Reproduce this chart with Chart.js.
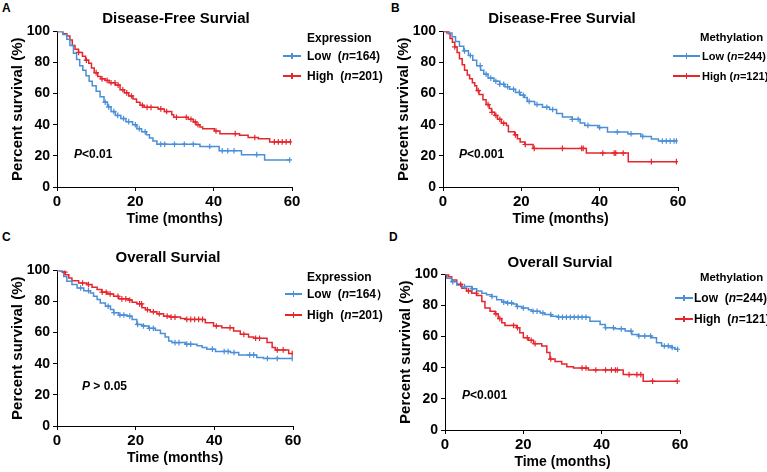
<!DOCTYPE html>
<html><head><meta charset="utf-8">
<script src="https://cdn.jsdelivr.net/npm/chart.js@4.4.0/dist/chart.umd.min.js"></script>
<style>
html,body{margin:0;padding:0;background:#fff;}
body{width:767px;height:472px;position:relative;overflow:hidden;font-family:"Liberation Sans",Arial,sans-serif;color:#000;}
.c{position:absolute;z-index:1;}
.t{position:absolute;white-space:nowrap;line-height:1;font-weight:bold;z-index:2;}
.ttl{font-size:15px;transform:translateX(-50%);}
.let{font-size:12px;}
.lg{font-size:12px;}
.lgm{font-size:11.4px;}
.lg2{font-size:11px;}
.pv{font-size:12px;}
.mk{position:absolute;z-index:2;height:0;}
.mk .h{position:absolute;left:0;right:0;top:-0.75px;height:1.5px;}
.mk .v{position:absolute;left:50%;width:1.2px;margin-left:-0.6px;top:-3px;height:6px;}
</style></head><body>

<div class="t let" style="left:2px;top:2px">A</div>
<div class="t let" style="left:391px;top:2px">B</div>
<div class="t let" style="left:2px;top:231px">C</div>
<div class="t let" style="left:389px;top:231px">D</div>

<div class="t ttl" style="left:176px;top:10px">Disease-Free Survial</div>
<div class="t ttl" style="left:562px;top:10px">Disease-Free Survial</div>
<div class="t ttl" style="left:168px;top:249px">Overall Survial</div>
<div class="t ttl" style="left:560px;top:254px">Overall Survial</div>

<div class="t lg" style="left:307px;top:32px">Expression</div>
<div class="t lg" style="left:307px;top:50px">Low&nbsp;&nbsp;(<i>n</i>=164)</div>
<div class="t lg" style="left:307px;top:70px">High&nbsp;&nbsp;(<i>n</i>=201)</div>
<div class="mk" style="left:283px;top:56px;width:18px"><div class="h" style="background:#4a8fd8"></div><div class="v" style="background:#4a8fd8"></div></div>
<div class="mk" style="left:283px;top:76px;width:18px"><div class="h" style="background:#e5262c"></div><div class="v" style="background:#e5262c"></div></div>

<div class="t lgm" style="left:700px;top:32px">Methylation</div>
<div class="t lg2" style="left:702px;top:51px">Low&nbsp;(<i>n</i>=244)</div>
<div class="t lg2" style="left:702px;top:71px">High&nbsp;(<i>n</i>=121)</div>
<div class="mk" style="left:673px;top:56px;width:27px"><div class="h" style="background:#4a8fd8"></div><div class="v" style="background:#4a8fd8"></div></div>
<div class="mk" style="left:673px;top:76px;width:27px"><div class="h" style="background:#e5262c"></div><div class="v" style="background:#e5262c"></div></div>

<div class="t lg" style="left:307px;top:271px">Expression</div>
<div class="t lg" style="left:307px;top:288px">Low&nbsp;&nbsp;(<i>n</i>=164）</div>
<div class="t lg" style="left:307px;top:309px">High&nbsp;&nbsp;(<i>n</i>=201)</div>
<div class="mk" style="left:285px;top:294px;width:17px"><div class="h" style="background:#4a8fd8"></div><div class="v" style="background:#4a8fd8"></div></div>
<div class="mk" style="left:285px;top:315px;width:17px"><div class="h" style="background:#e5262c"></div><div class="v" style="background:#e5262c"></div></div>

<div class="t lgm" style="left:700px;top:272px">Methylation</div>
<div class="t lg" style="left:694px;top:292px">Low&nbsp;&nbsp;(<i>n</i>=244)</div>
<div class="t lg" style="left:694px;top:313px">High&nbsp;&nbsp;(<i>n</i>=121)</div>
<div class="mk" style="left:675px;top:298px;width:18px"><div class="h" style="background:#4a8fd8"></div><div class="v" style="background:#4a8fd8"></div></div>
<div class="mk" style="left:675px;top:319px;width:18px"><div class="h" style="background:#e5262c"></div><div class="v" style="background:#e5262c"></div></div>

<div class="t pv" style="left:74px;top:148px"><i>P</i>&lt;0.01</div>
<div class="t pv" style="left:459px;top:148px"><i>P</i>&lt;0.001</div>
<div class="t pv" style="left:82px;top:380px"><i>P</i> &gt; 0.05</div>
<div class="t pv" style="left:462px;top:389px"><i>P</i>&lt;0.001</div>

<script>
const BLUE = '#4a8fd8', RED = '#e5262c';
const xTicks = [0, 20, 40, 60];
const yTicks = [0, 20, 40, 60, 80, 100];

// Panel A: Disease-free survival by expression
const aLowT = [0,1.5,2.5,3.3,4.2,5,5.8,6.6,7.4,8.2,9,10,11,12,12.9,13.8,14.9,16.3,17.6,19.3,20.4,21.6,22.8,23.6,24.5,25.5,36.5,41.4,47.1,53,59.4];
const aLowS = [100,98,95,91,86,82,78,75,71.5,68,65,61.5,58,54.5,51.5,48.5,46,44,42,40,37.5,35.5,33.5,31.5,29.5,27.5,26,23.3,20.8,17.4,17.4];
const aLowC = [12.3,13.2,14.5,15.5,17,18.3,20,21,22.5,26.5,27.5,30,32.5,34.8,39,42.2,43.6,45.2,51,59.4];
const aHighT = [0,1.5,2.5,3.3,3.9,4.6,5.5,6.5,7.3,8.1,8.8,9.5,10.4,11.2,12.3,13.3,14.9,16.1,17.2,18.3,19.4,20.3,21.2,22.2,25.8,27.4,29.3,29.8,33.5,34.8,35.5,36.5,37.2,40.2,41.6,46.6,48.8,51.4,54.3,59.6];
const aHighS = [100,98.5,97,94.5,91,88.5,86.5,84,81.5,79.5,76.5,73.5,71,69.5,68.5,67,65.5,62.5,60.5,58.5,56.5,54.5,52.5,51.2,50.2,48.5,46.5,44.8,43.5,41.8,40,38.5,37.5,36,34.3,33.2,31.8,31,29,29];
const aHighC = [5.5,7.5,10,11.5,12.8,13.8,14.8,15.6,16.8,17.8,19,21.8,23,24,26.5,28,30.5,33,34.2,35.3,36,40.6,45.5,50.5,55.5,56.5,57.5,58.5,59.6];

// Panel B: Disease-free survival by methylation
const bLowT = [0,1.3,2.3,3.2,4.2,5.3,6.5,7.6,8.6,9.6,10.4,11.5,13,14.5,15.8,17,18.5,19.7,20.8,21.5,23.4,25.4,27.2,29,30.5,33,35,36.2,39.6,42,47.2,50.5,53.2,55,59.6];
const bLowS = [100,99,96.5,93.5,90.5,87.5,84.5,81.5,78,75,72.5,70,68,66,64.5,62.8,60.8,59,57.5,55,53,51.3,49.8,47.3,45,43.5,41.2,39.6,38.2,35.3,34.2,32.5,30.8,29.6,29.6];
const bLowC = [5.5,7,9.5,11,12.2,13.5,14.5,15.5,16.5,18,19.5,20.5,22,24,26.5,28,33,34.5,37,40,44.5,48,51,56,57,58,59,59.6];
const bHighT = [0,1.5,1.8,2.4,3,3.6,4.2,4.9,5.5,6.2,6.8,7.5,8.1,8.6,9.2,10.2,11,11.8,12.4,13.2,13.9,14.9,16.2,16.7,18.3,19,19.7,20.9,23,36.6,47.3,59.6];
const bHighS = [100,98.5,95.5,93,90,86.5,82.5,78.5,75,72,69.5,67,65,62,59.5,56,53,50.5,48,46,43.5,41,39.6,35.5,33.5,31,29,27.3,24.8,21.8,16.3,16.3];
const bHighC = [1,3,9,11.5,12.5,13.5,14.5,15.5,18.5,21,23.3,30.5,35.4,35.8,40.8,43.7,44.1,46,53.2,59.6];

// Panel C: Overall survival by expression
const cLowT = [0,0.8,1.7,2.5,3.8,5.1,6.8,8.5,9.3,10.2,11,12.3,13.6,14.4,15.7,17.8,19.1,20.3,21.6,23.3,25,26.3,27.5,28.4,29.2,32.6,35.6,36.9,38.1,40.3,44.1,46.2,50.8,52.5,59.8];
const cLowS = [100,99.4,96,93,90.9,88.7,87,85.5,83.4,81.3,79.1,77,74.9,72.8,71.3,70.6,68.5,65.3,64.3,62.8,61.5,59.4,57.2,54.7,53.6,52.6,51.5,50.4,49.4,47.9,47.2,45.7,44,43.4,43.4];
const cLowC = [6,8,13,14.5,16,17,18.5,20.5,22,23.5,24.5,30,31,33,34,39.5,42.5,43.5,45,49,50,53.5,56,59.8];
const cHighT = [0,1.3,2.1,3,3.8,5.5,7.6,8.9,10.2,11.4,12.7,14.4,15.7,18.2,19.1,20.3,21.6,22.5,23.7,25.4,27.1,28.8,31.4,32.6,37.7,39.8,41.9,44.9,46.6,48.7,50,53.4,54.7,55.5,58.9,59.8];
const cHighS = [100,98.9,97.2,95.1,93.4,91.9,90.9,89.1,87.7,86,84.9,83.4,81.7,80.9,79.6,78.5,76,74.7,73.4,72.1,70.6,70,69.1,68.5,66.4,64.3,63.2,61.1,58.9,57.2,56.4,53.6,50.4,48.9,46.6,46.6];
const cHighC = [2,6.5,8,11.5,12.5,13.5,15.5,16.5,17.5,18.5,21,21.5,23,24.5,26,28,29,30,33,34,35,36,37,40.5,44,47.5,50.5,51.5,56,57.5,59.8];

// Panel D: Overall survival by methylation
const dLowT = [0,0.4,1.7,3,4.3,6.8,8.1,9.4,10.6,11.9,13.2,14.5,15.7,17.4,18.3,19.6,21.3,22.1,24.3,25.5,27.2,28.9,37,39.6,40.9,43.4,46,47.7,49.4,52.8,54,55.3,57.9,58.7,59.4];
const dLowS = [100,97.5,95.3,93.2,92.2,90.7,89.4,87.9,86.9,85.8,83.7,82.2,81.6,80.9,79.4,78.4,77.3,76.3,75.2,74.2,73.1,72.5,69.9,67.8,65.7,65,63.6,61.4,60.4,59.3,56.1,54,53,51.9,51.9];
const dLowC = [2,5,7,12,15,16,17,18.5,20,22.5,23.5,25,27,29,30,31,32,33,34,35,36,41,43,45,47.5,49.5,51,52.5,56,57,58,59.4];
const dHighT = [0,0.9,1.7,3,4.3,5.5,6.8,8.1,9.4,10.2,11.5,12.8,13.6,14.5,15.3,18.3,19.1,20,21.3,22.6,24.7,26,26.8,28.1,29.8,31.1,32.8,36.6,45.5,50.6,59.3];
const dHighS = [100,98.5,96.4,93.6,91.1,89.4,87.9,86.4,82.6,78.4,76.3,74.6,71.6,68.9,67.2,65.7,62.5,59.3,57.6,55.5,54,49.8,45.6,44.1,42.4,40.7,39.8,38.6,35.6,31.4,31.4];
const dHighC = [0.5,4,6,8,13,14,17.5,18.5,21,22,23,27,35,36,38.5,41,42.5,43.5,44,47,49,50,53,59.3];

function stepAt(ts, ss, t) {
  let v = ss[0];
  for (let i = 0; i < ts.length; i++) { if (ts[i] <= t) v = ss[i]; else break; }
  return v;
}
function curve(ts, ss) { return ts.map((t, i) => ({x: t, y: ss[i]})); }
function marks(ts, ss, cs) { return cs.map(c => ({x: c, y: stepAt(ts, ss, c)})); }

const FAM = '"Liberation Sans", Arial, sans-serif';

function panel(p) {
  const YW = 48, PT = 10, PR = 22, XH = 41;
  const w = p.R - p.L + YW + PR, h = p.B - p.T + PT + XH;
  const div = document.createElement('div');
  div.className = 'c';
  div.style.left = (p.L - YW) + 'px'; div.style.top = (p.T - PT) + 'px';
  div.style.width = w + 'px'; div.style.height = h + 'px';
  const cv = document.createElement('canvas');
  cv.width = w; cv.height = h; cv.style.width = w + 'px'; cv.style.height = h + 'px';
  div.appendChild(cv); document.body.appendChild(div);
  const line = (data, color) => ({type: 'line', data, stepped: true, borderColor: color, borderWidth: 1.5,
    pointRadius: 0, fill: false, order: 2});
  const cens = (data, color) => ({type: 'scatter', data, showLine: false, pointStyle: 'cross', pointRadius: 2.8,
    borderColor: color, backgroundColor: color, borderWidth: 1.2, order: 1});
  new Chart(cv, {
    type: 'line',
    data: {datasets: [
      line(curve(p.lowT, p.lowS), BLUE),
      line(curve(p.highT, p.highS), RED),
      cens(marks(p.lowT, p.lowS, p.lowC), BLUE),
      cens(marks(p.highT, p.highS, p.highC), RED)
    ]},
    options: {
      responsive: false, animation: false, devicePixelRatio: 1,
      layout: {padding: {top: PT, right: PR, left: 0, bottom: 0}},
      plugins: {legend: {display: false}, tooltip: {enabled: false}, title: {display: false}},
      scales: {
        x: {type: 'linear', min: 0, max: 60,
          afterBuildTicks: s => { s.ticks = xTicks.map(v => ({value: v})); },
          ticks: {font: {family: FAM, size: 15, weight: 'bold'}, color: '#000', padding: 2, maxRotation: 0},
          grid: {display: true, drawOnChartArea: false, drawTicks: true, tickLength: 4, color: '#000', lineWidth: 1},
          border: {display: true, color: '#000', width: 1},
          title: {display: true, text: 'Time (months)', font: {family: FAM, size: 14, weight: 'bold'}, color: '#000', padding: 0},
          afterFit: s => { s.height = XH; }
        },
        y: {type: 'linear', min: 0, max: 100,
          afterBuildTicks: s => { s.ticks = yTicks.map(v => ({value: v})); },
          ticks: {font: {family: FAM, size: 14, weight: 'bold'}, color: '#000', padding: 3},
          grid: {display: true, drawOnChartArea: false, drawTicks: true, tickLength: 4, color: '#000', lineWidth: 1},
          border: {display: true, color: '#000', width: 1},
          title: {display: true, text: 'Percent survival (%)', font: {family: FAM, size: 15, weight: 'bold'}, color: '#000', padding: 0},
          afterFit: s => { s.width = YW; }
        }
      }
    }
  });
}

panel({L: 57, R: 292, T: 30, B: 187, lowT: aLowT, lowS: aLowS, lowC: aLowC, highT: aHighT, highS: aHighS, highC: aHighC});
panel({L: 443, R: 678, T: 30, B: 187, lowT: bLowT, lowS: bLowS, lowC: bLowC, highT: bHighT, highS: bHighS, highC: bHighC});
panel({L: 57, R: 293, T: 269, B: 426, lowT: cLowT, lowS: cLowS, lowC: cLowC, highT: cHighT, highS: cHighS, highC: cHighC});
panel({L: 445, R: 680, T: 273, B: 430, lowT: dLowT, lowS: dLowS, lowC: dLowC, highT: dHighT, highS: dHighS, highC: dHighC});
</script>
</body></html>
